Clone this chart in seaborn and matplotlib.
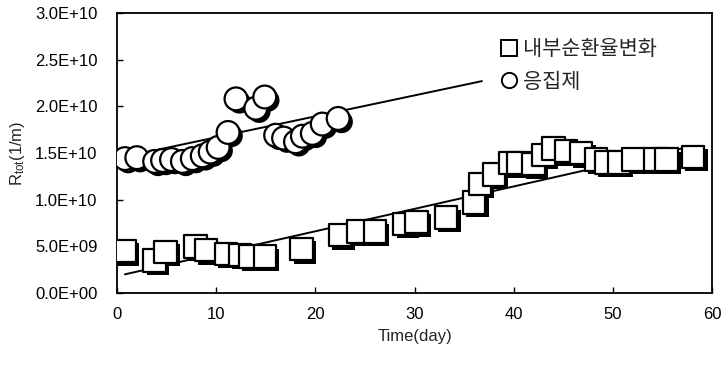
import numpy as np
import pandas as pd
import matplotlib
matplotlib.use("Agg")
import matplotlib.pyplot as plt
import matplotlib.patheffects as pe
from matplotlib.ticker import FuncFormatter
from matplotlib.lines import Line2D
import seaborn as sns

# ---- data (R_tot in units of 1E+10 1/m) ----
square_label = "내부순환율변화"
circle_label = "응집제"

square_day = [0.8, 3.8, 4.9, 7.9, 9.0, 11.0, 12.4, 13.4, 14.9, 18.6, 22.5, 24.3,
              26.0, 29.0, 30.2, 33.2, 36.0, 36.6, 38.0, 39.7, 40.5, 42.0, 43.0,
              44.0, 45.3, 46.8, 48.3, 49.3, 50.6, 52.1, 54.3, 55.4, 58.1]
square_val = [0.45, 0.35, 0.44, 0.50, 0.46, 0.42, 0.41, 0.39, 0.39, 0.47, 0.62, 0.66,
              0.66, 0.74, 0.76, 0.81, 0.97, 1.17, 1.27, 1.39, 1.39, 1.38, 1.48,
              1.55, 1.52, 1.50, 1.43, 1.40, 1.40, 1.43, 1.43, 1.43, 1.46]

circle_day = [0.8, 2.0, 3.8, 4.6, 5.5, 6.6, 7.6, 8.6, 9.4, 10.2, 11.2, 12.0,
              14.0, 14.9, 16.0, 16.8, 18.0, 18.7, 19.7, 20.7, 22.3]
circle_val = [1.44, 1.45, 1.41, 1.42, 1.43, 1.41, 1.44, 1.47, 1.51, 1.56, 1.72, 2.08,
              1.98, 2.10, 1.69, 1.66, 1.62, 1.68, 1.71, 1.81, 1.87]

square_trend_day = [0.8, 57.0]
square_trend_val = [0.20, 1.55]
circle_trend_day = [0.3, 36.8]
circle_trend_val = [1.45, 2.27]

x_ticks = [0, 10, 20, 30, 40, 50, 60]
y_ticks = [0.0, 0.5, 1.0, 1.5, 2.0, 2.5, 3.0]
scale = 1e10

sq = pd.DataFrame({"day": square_day, "R": np.array(square_val) * scale})
ci = pd.DataFrame({"day": circle_day, "R": np.array(circle_val) * scale})
sqt = pd.DataFrame({"day": square_trend_day, "R": np.array(square_trend_val) * scale})
cit = pd.DataFrame({"day": circle_trend_day, "R": np.array(circle_trend_val) * scale})

sns.set_theme(style="white")
plt.rcParams["font.family"] = ["Liberation Sans", "Noto Sans CJK KR", "DejaVu Sans"]
plt.rcParams["mathtext.fontset"] = "custom"
plt.rcParams["mathtext.rm"] = "Liberation Sans"
plt.rcParams["mathtext.it"] = "Liberation Sans"

fig = plt.figure(figsize=(7.28, 3.70), dpi=100)
ax = fig.add_axes([117/728, 1 - 293/370, (712-117)/728, (293-13)/370])

shadow = [pe.SimplePatchShadow(offset=(2.4, -2.4), shadow_rgbFace="black", alpha=1.0), pe.Normal()]

sns.lineplot(data=sqt, x="day", y="R", ax=ax, color="black", lw=1.4, zorder=2)
sns.lineplot(data=cit, x="day", y="R", ax=ax, color="black", lw=1.4, zorder=2)

sns.scatterplot(data=sq, x="day", y="R", ax=ax, marker="s", s=260,
                facecolor="white", edgecolor="black", linewidth=1.6, zorder=3)
ax.collections[-1].set_path_effects(shadow)
sns.scatterplot(data=ci, x="day", y="R", ax=ax, marker="o", s=270,
                facecolor="white", edgecolor="black", linewidth=1.6, zorder=3)
ax.collections[-1].set_path_effects(shadow)

ax.set_xlim(0, 60)
ax.set_ylim(0, 3.0e10)
ax.set_xticks(x_ticks)
ax.set_yticks([v * scale for v in y_ticks])
ax.yaxis.set_major_formatter(FuncFormatter(lambda v, p: f"{v:.1E}"))
ax.tick_params(direction="in", length=4, width=1, colors="black", labelsize=12,
               bottom=True, left=True)
ax.tick_params(axis="y", pad=14)
ax.tick_params(axis="x", pad=10)
for sp in ax.spines.values():
    sp.set_color("black")
    sp.set_linewidth(1.3)

ax.set_xlabel("Time(day)", fontsize=12, labelpad=5)
ax.set_ylabel("R$_{\\rm tot}$(1/m)", fontsize=12, labelpad=6)

handles = [
    Line2D([], [], marker="s", ls="none", markersize=11, markerfacecolor="white",
           markeredgecolor="black", markeredgewidth=1.4),
    Line2D([], [], marker="o", ls="none", markersize=11, markerfacecolor="white",
           markeredgecolor="black", markeredgewidth=1.4),
]
leg = ax.legend(handles, [square_label, circle_label], loc="upper left",
                bbox_to_anchor=(0.63, 0.94), frameon=False, handlelength=0.8,
                handletextpad=0.3, labelspacing=0.5, borderaxespad=0,
                prop={"family": ["Noto Sans CJK KR"], "size": 15})

fig.savefig("out.png", dpi=100)
